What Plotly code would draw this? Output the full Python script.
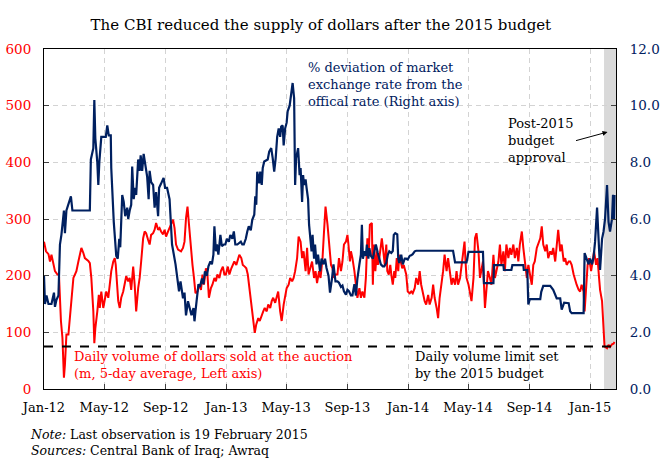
import pandas as pd
import plotly.graph_objects as go

# days counted from 1 Jan 2012
BLUE_DAYS = [
    0, 2, 5, 9, 15, 20, 22, 25, 29, 32,
    35, 40, 42, 45, 54, 57, 92, 94, 99, 101,
    103, 107, 109, 111, 115, 124, 127, 130, 134, 135,
    140, 143, 145, 148, 151, 153, 157, 160, 163, 167,
    169, 172, 175, 177, 180, 183, 185, 189, 192, 194,
    197, 200, 204, 207, 210, 212, 215, 219, 222, 225,
    229, 231, 235, 240, 243, 247, 252, 255, 257, 264,
    267, 271, 274, 279, 282, 285, 289, 292, 296, 300,
    302, 304, 308, 310, 313, 317, 320, 323, 327, 330,
    334, 337, 340, 342, 345, 347, 350, 354, 357, 361,
    364, 367, 371, 374, 378, 381, 384, 388, 395, 398,
    401, 405, 408, 411, 415, 418, 422, 424, 426, 428,
    432, 434, 437, 439, 442, 445, 449, 452, 456, 459,
    462, 465, 468, 471, 474, 476, 479, 481, 484, 487,
    489, 493, 496, 499, 502, 504, 506, 510, 513, 515,
    518, 520, 522, 525, 527, 530, 532, 535, 537, 539,
    542, 544, 547, 550, 554, 557, 561, 564, 567, 571,
    574, 578, 581, 585, 589, 592, 596, 599, 602, 606,
    609, 612, 616, 619, 623, 626, 629, 633, 636, 638,
    640, 643, 646, 648, 651, 653, 656, 660, 663, 666,
    670, 673, 676, 680, 683, 687, 690, 693, 697, 700,
    702, 705, 709, 711, 713, 717, 720, 724, 727, 730,
    734, 737, 740, 744, 747, 821, 825, 848, 852, 881,
    883, 902, 903, 922, 923, 938, 940, 962, 963, 970,
    972, 975, 996, 998, 1002, 1016, 1022, 1029, 1036, 1039,
    1044, 1053, 1056, 1059, 1083, 1085, 1089, 1093, 1096, 1100,
    1103, 1106, 1110, 1113, 1116, 1120, 1123, 1126, 1130, 1133,
    1136, 1140, 1142, 1144, 1145,
]
BLUE_PCT = [
    4.0, 3.0, 3.3, 3.0, 3.0, 3.4, 2.9, 3.15, 3.3, 5.1,
    5.45, 6.3, 5.5, 6.3, 6.8, 6.3, 6.3, 8.1, 8.5, 10.2,
    8.85, 8.0, 7.2, 8.0, 8.9, 8.9, 9.3, 8.95, 8.95, 7.8,
    5.9, 5.1, 4.7, 4.6, 5.3, 5.0, 6.85, 6.6, 6.1, 6.4,
    6.0, 6.3, 6.5, 7.85, 6.7, 7.1, 6.85, 8.1, 7.7, 8.25,
    7.7, 8.3, 7.85, 7.5, 6.7, 7.7, 7.3, 7.2, 6.4, 6.95,
    6.1, 7.1, 7.25, 7.45, 7.1, 7.1, 6.7, 5.8, 5.1, 4.4,
    3.9, 3.45, 3.8, 3.2, 3.4, 2.6, 3.1, 2.9, 2.6, 2.86,
    2.39, 2.74, 3.45, 3.7, 3.6, 3.9, 3.7, 4.15, 4.0, 4.33,
    4.5, 4.4, 4.74, 5.74, 4.86, 5.1, 4.74, 5.44, 5.04, 5.1,
    5.1, 5.3, 5.2, 5.44, 5.3, 5.56, 5.1, 5.1, 5.2, 5.1,
    5.1, 5.3, 5.56, 5.74, 5.6, 5.97, 6.15, 6.8, 6.5, 7.67,
    7.26, 7.67, 7.2, 7.8, 8.03, 8.05, 8.1, 8.38, 8.5, 8.15,
    7.67, 8.15, 8.9, 9.2, 8.9, 9.26, 9.3, 8.6, 9.2, 9.4,
    9.8, 10.0, 10.5, 10.8, 10.26, 7.2, 8.15, 8.5, 7.55, 7.8,
    6.6, 7.55, 7.2, 7.4, 7.1, 6.7, 5.8, 5.3, 4.86, 5.44,
    4.6, 5.1, 4.4, 4.74, 4.15, 4.6, 4.4, 4.6, 4.27, 4.0,
    3.4, 3.9, 4.4, 3.8, 3.8, 3.75, 3.6, 3.65, 3.45, 3.33,
    3.5, 3.45, 3.3, 3.3, 3.7, 3.3, 3.9, 4.4, 4.74, 5.8,
    4.6, 4.86, 4.7, 5.1, 4.6, 4.97, 4.7, 4.6, 4.86, 5.1,
    4.8, 4.6, 4.4, 4.33, 4.33, 4.45, 4.74, 4.86, 4.8, 4.87,
    5.44, 5.5, 5.46, 4.6, 4.45, 4.74, 4.4, 4.6, 4.6, 4.57,
    4.7, 4.72, 4.76, 4.86, 4.88, 4.88, 4.47, 4.47, 4.84, 4.84,
    3.74, 3.74, 4.37, 4.37, 4.2, 4.2, 4.37, 4.37, 4.2, 4.2,
    2.98, 3.17, 3.17, 3.43, 3.64, 3.64, 3.5, 3.2, 3.2, 2.8,
    3.05, 3.03, 2.74, 2.68, 2.68, 4.8, 4.6, 4.4, 4.6, 4.4,
    4.65, 5.2, 6.4, 5.3, 4.2, 5.3, 5.56, 6.0, 7.2, 5.9,
    5.56, 6.0, 6.85, 6.0, 6.85,
]

RED_DAYS = [
    0, 4, 9, 12, 15, 19, 22, 27, 30, 32,
    34, 37, 40, 42, 45, 49, 52, 55, 59, 62,
    65, 69, 72, 75, 79, 82, 89, 92, 95, 99,
    101, 103, 107, 110, 112, 115, 119, 122, 125, 129,
    132, 135, 139, 142, 144, 147, 149, 152, 155, 159,
    162, 165, 169, 172, 175, 179, 182, 185, 189, 192,
    195, 199, 202, 205, 209, 212, 215, 219, 222, 225,
    229, 232, 235, 239, 242, 245, 249, 255, 259, 262,
    265, 269, 275, 279, 282, 285, 288, 291, 294, 298,
    301, 304, 308, 311, 315, 318, 321, 325, 328, 331,
    335, 338, 342, 345, 348, 352, 355, 359, 362, 365,
    369, 372, 376, 379, 382, 386, 389, 392, 396, 399,
    403, 406, 409, 413, 416, 420, 423, 426, 430, 433,
    437, 440, 443, 447, 450, 454, 457, 460, 464, 467,
    470, 474, 477, 481, 484, 487, 491, 494, 498, 501,
    504, 508, 511, 515, 518, 521, 525, 528, 531, 535,
    538, 542, 545, 548, 552, 555, 559, 562, 565, 569,
    572, 576, 579, 582, 585, 589, 592, 596, 599, 602,
    606, 609, 611, 614, 616, 619, 623, 626, 629, 633,
    636, 639, 643, 646, 649, 652, 654, 658, 660, 662,
    665, 668, 670, 673, 676, 678, 681, 684, 687, 689,
    692, 695, 697, 700, 703, 705, 708, 711, 713, 716,
    719, 722, 724, 727, 730, 734, 737, 740, 744, 747,
    751, 754, 757, 761, 764, 767, 771, 774, 778, 781,
    784, 788, 791, 794, 798, 801, 804, 808, 811, 815,
    818, 821, 825, 828, 831, 835, 838, 842, 844, 846,
    848, 852, 855, 858, 862, 865, 868, 872, 875, 878,
    881, 885, 888, 891, 895, 898, 902, 905, 908, 912,
    915, 918, 922, 925, 928, 932, 935, 938, 942, 945,
    949, 952, 955, 959, 962, 965, 969, 972, 975, 979,
    982, 985, 989, 992, 996, 999, 1002, 1006, 1009, 1012,
    1016, 1019, 1022, 1026, 1029, 1032, 1036, 1039, 1043, 1046,
    1049, 1053, 1056, 1059, 1063, 1066, 1069, 1073, 1076, 1079,
    1083, 1085, 1087, 1091, 1094, 1098, 1101, 1104, 1108, 1111,
    1114, 1116, 1120, 1123, 1125, 1130, 1133, 1136, 1140, 1143,
    1145,
]
RED_VOL = [
    260, 243, 238, 225, 237, 219, 208, 202, 202, 161,
    120, 90, 20, 43, 96, 96, 125, 149, 196, 202,
    208, 225, 237, 249, 240, 231, 226, 222, 196, 137,
    81, 107, 137, 166, 143, 172, 143, 161, 172, 161,
    184, 208, 225, 231, 219, 184, 155, 143, 161, 172,
    184, 199, 190, 196, 175, 216, 184, 137, 178, 196,
    225, 266, 278, 275, 263, 255, 272, 275, 281, 293,
    281, 284, 278, 273, 281, 269, 278, 290, 299, 284,
    255, 246, 243, 249, 260, 301, 322, 290, 255, 219,
    196, 169, 172, 184, 175, 202, 184, 213, 202, 161,
    178, 184, 196, 190, 202, 196, 208, 216, 202, 202,
    216, 202, 213, 219, 225, 219, 228, 237, 231, 219,
    216, 213, 202, 172, 149, 120, 99, 114, 125, 120,
    131, 137, 143, 137, 149, 143, 155, 161, 152, 161,
    172, 137, 120, 149, 166, 178, 184, 196, 190, 196,
    208, 231, 269, 260, 231, 243, 208, 249, 202, 213,
    225, 196, 208, 187, 208, 196, 231, 278, 322, 290,
    255, 219, 213, 196, 202, 202, 231, 208, 225, 255,
    260, 272, 255, 225, 243, 231, 208, 184, 161, 178,
    161, 172, 161, 196, 266, 243, 290, 293, 184, 255,
    208, 243, 219, 231, 255, 266, 243, 219, 255, 208,
    202, 219, 202, 184, 208, 196, 231, 208, 237, 225,
    213, 219, 213, 202, 172, 169, 172, 169, 178, 196,
    184, 208, 184, 166, 155, 149, 166, 149, 161, 184,
    161, 143, 125, 161, 184, 208, 237, 208, 231, 202,
    184, 196, 184, 208, 184, 196, 219, 255, 260, 225,
    196, 184, 172, 155, 196, 266, 275, 243, 196, 208,
    225, 143, 184, 208, 196, 184, 237, 196, 208, 225,
    255, 219, 243, 208, 255, 231, 249, 237, 255, 231,
    249, 225, 255, 278, 249, 225, 196, 219, 202, 184,
    219, 225, 249, 255, 266, 287, 255, 243, 255, 231,
    243, 237, 249, 225, 255, 281, 243, 255, 225, 231,
    219, 225, 225, 219, 202, 190, 184, 175, 172, 184,
    172, 137, 161, 219, 231, 208, 225, 243, 219, 231,
    196, 175, 155, 108, 75, 72, 78, 74, 79, 80,
    83,
]

LIMIT = 75  # daily volume limit in the 2015 budget, m USD
BUDGET_APPROVAL = "2015-01-29"
X_START, X_END = "2012-01-01", "2015-02-22"

RED = "#FF0000"
NAVY = "#002060"
FONT = "DejaVu Serif"

start = pd.Timestamp("2012-01-01")
blue_x = start + pd.to_timedelta(BLUE_DAYS, unit="D")
red_x = start + pd.to_timedelta(RED_DAYS, unit="D")

fig = go.Figure()
fig.add_trace(go.Scatter(x=red_x, y=RED_VOL, mode="lines",
                         line=dict(color=RED, width=2), yaxis="y"))
fig.add_trace(go.Scatter(x=blue_x, y=BLUE_PCT, mode="lines",
                         line=dict(color=NAVY, width=2.2), yaxis="y2"))

fig.add_shape(type="rect", xref="x", yref="paper", x0=BUDGET_APPROVAL, x1=X_END,
              y0=0, y1=1, fillcolor="#D9D9D9", line_width=0, layer="below")
fig.add_shape(type="line", xref="paper", yref="y", x0=0, x1=1, y0=LIMIT, y1=LIMIT,
              line=dict(color="black", width=2, dash="dash"))

txt = dict(family=FONT, size=13)
fig.add_annotation(xref="paper", yref="paper", x=0.458, y=0.975, xanchor="left",
                   yanchor="top", align="left", showarrow=False,
                   text="% deviation of market<br>exchange rate from the<br>offical rate (Right axis)",
                   font=dict(txt, color=NAVY))
fig.add_annotation(xref="paper", yref="paper", x=0.808, y=0.81, xanchor="left",
                   yanchor="top", align="left", showarrow=False,
                   text="Post-2015<br>budget<br>approval", font=dict(txt, color="black"))
fig.add_annotation(xref="x", yref="y2", x="2015-02-05", y=9.07, ax=-33, ay=9,
                   text="", showarrow=True, arrowhead=2, arrowsize=1,
                   arrowwidth=1, arrowcolor="black")
fig.add_annotation(xref="paper", yref="paper", x=0.049, y=0.125, xanchor="left",
                   yanchor="top", align="left", showarrow=False,
                   text="Daily volume of dollars sold at the auction<br>(m, 5-day average, Left axis)",
                   font=dict(txt, color=RED))
fig.add_annotation(xref="paper", yref="paper", x=0.645, y=0.125, xanchor="left",
                   yanchor="top", align="left", showarrow=False,
                   text="Daily volume limit set<br>by the 2015 budget",
                   font=dict(txt, color="black"))
fig.add_annotation(xref="paper", yref="paper", x=-0.028, y=-0.105, xanchor="left",
                   yanchor="top", align="left", showarrow=False,
                   text="<i>Note:</i> Last observation is 19 February 2015<br>"
                        "<i>Sources:</i> Central Bank of Iraq; Awraq",
                   font=dict(family=FONT, size=12.5, color="black"))

fig.update_layout(
    width=663, height=473,
    margin=dict(l=44, r=47, t=49, b=84, autoexpand=False),
    paper_bgcolor="white", plot_bgcolor="white",
    showlegend=False,
    font=dict(family=FONT, color="black"),
    title=dict(text="The CBI reduced the supply of dollars after the 2015 budget",
               x=0.484, xanchor="center", y=0.947, yanchor="middle",
               font=dict(family=FONT, size=15, color="black")),
    xaxis=dict(type="date", range=[X_START, X_END], tick0="2012-01-01", dtick="M4",
               tickformat="%b-%y", showgrid=True, gridcolor="#D3D3D3", griddash="5px,4px",
               ticks="inside", ticklen=5, tickcolor="#404040", ticklabelstandoff=6,
               showline=True, linecolor="black", linewidth=1, mirror=True,
               tickfont=dict(family=FONT, size=13, color="black")),
    yaxis=dict(range=[0, 600], dtick=100, showgrid=True, gridcolor="#D3D3D3",
               griddash="5px,4px", zeroline=False, ticks="inside", ticklen=5,
               tickcolor="#404040", ticklabelstandoff=9,
               showline=True, linecolor="black", linewidth=1,
               tickfont=dict(family=FONT, size=13.5, color=RED)),
    yaxis2=dict(range=[0, 12], dtick=2, tickformat=".1f", overlaying="y", side="right",
                showgrid=False, zeroline=False, ticks="inside", ticklen=5,
                tickcolor="#404040", ticklabelstandoff=10,
                showline=True, linecolor="black", linewidth=1,
                tickfont=dict(family=FONT, size=13.5, color=NAVY)),
)

# the page's default body margin would shift the figure by 8px
fig.write_html("out.html", config={"displayModeBar": False},
               post_script="document.body.style.margin = '0';")
